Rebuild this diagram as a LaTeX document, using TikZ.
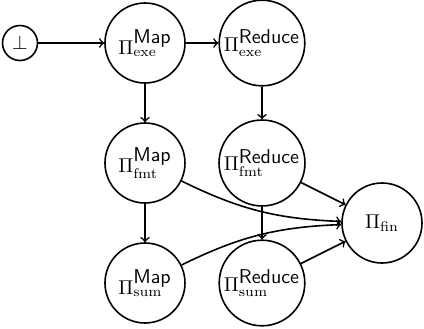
\documentclass[tikz,border=0pt]{standalone}
\usepackage{tikz}
\usetikzlibrary{positioning, arrows}
\tikzset{->,
         >=to,
         node distance=60pt,
         stage/.style={circle, draw, thick, minimum size=40pt, inner sep=1pt},
         }

\begin{document}
\begin{tikzpicture}
    \useasboundingbox (-72.5pt,21.5pt) rectangle (139.5pt,-142.5pt);

    \node[stage] (mapexe) {$\Pi^{\textsf{Map}}_{\mathrm{exe}}$};
    \node[circle, draw, thick, inner sep=2.5pt, left of=mapexe, node distance=62.5pt] (bot) {$\bot$};
    \node[stage, right of=mapexe, node distance=58.5pt] (redexe) {$\Pi^{\textsf{Reduce}}_{\mathrm{exe}}$};
    \node[stage, below of=mapexe] (mapfmt) {$\Pi^{\textsf{Map}}_{\mathrm{fmt}}$};
    \node[stage, below of=redexe] (redfmt) {$\Pi^{\textsf{Reduce}}_{\mathrm{fmt}}$};
    \node[stage, below of=mapfmt] (mapsum) {$\Pi^{\textsf{Map}}_{\mathrm{sum}}$};
    \node[stage, below of=redfmt] (redsum) {$\Pi^{\textsf{Reduce}}_{\mathrm{sum}}$};
    \node[stage, right of=redfmt, yshift=-30pt] (fin) {$\Pi_{\mathrm{fin}}$};

    \draw[thick] (bot) edge (mapexe)
            (mapexe) edge (redexe)
            (mapexe) edge (mapfmt)
            (redexe) edge (redfmt)
            (mapfmt) edge (mapsum)
            (redfmt) edge (redsum)
            (mapfmt) edge[bend right=12] (fin)
            (mapsum) edge[bend left=12] (fin)
            (redfmt) edge (fin)
            (redsum) edge (fin);
\end{tikzpicture}
\end{document}
